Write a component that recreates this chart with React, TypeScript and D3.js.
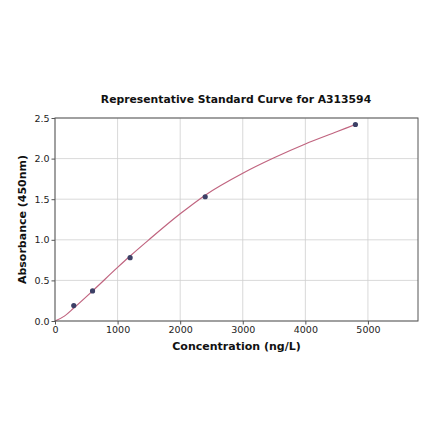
import { useEffect, useRef } from 'react';
import * as d3 from 'd3';

// standards
const concentrations = [300, 600, 1200, 2400, 4800];
const absorbances = [0.19, 0.37, 0.78, 1.53, 2.42];

// fitted curve, sampled by eye from the reference
const fitConc = [0, 150, 300, 600, 1000, 1200, 1500, 2000, 2400, 3000, 3500, 4000, 4500, 4800];
const fitAbs = [0.0, 0.06, 0.16, 0.37, 0.66, 0.8, 1.0, 1.32, 1.55, 1.82, 2.01, 2.18, 2.33, 2.42];

const xTicks = [0, 1000, 2000, 3000, 4000, 5000];
const yTicks = [0, 0.5, 1.0, 1.5, 2.0, 2.5];

const W = 440;
const H = 441;
const FONT = 'DejaVu Sans, sans-serif';

export default function App() {
  const svgRef = useRef<SVGSVGElement>(null);

  useEffect(() => {
    if (!svgRef.current) return;
    const svg = d3.select(svgRef.current);
    svg.selectAll('*').remove();

    const margin = { top: 118, right: 22, bottom: 120, left: 55 };
    const innerW = W - margin.left - margin.right;
    const innerH = H - margin.top - margin.bottom;

    const x = d3.scaleLinear().domain([0, 5800]).range([0, innerW]);
    const y = d3.scaleLinear().domain([0, 2.5]).range([innerH, 0]);

    const g = svg.append('g').attr('transform', 'translate(' + margin.left + ',' + margin.top + ')');

    // grid
    g.selectAll('line.gx')
      .data(xTicks)
      .join('line')
      .attr('x1', (d) => x(d))
      .attr('x2', (d) => x(d))
      .attr('y1', 0)
      .attr('y2', innerH)
      .attr('stroke', '#cfcfcf')
      .attr('stroke-width', 0.8);
    g.selectAll('line.gy')
      .data(yTicks)
      .join('line')
      .attr('x1', 0)
      .attr('x2', innerW)
      .attr('y1', (d) => y(d))
      .attr('y2', (d) => y(d))
      .attr('stroke', '#cfcfcf')
      .attr('stroke-width', 0.8);

    // fitted curve
    const line = d3
      .line<number>()
      .x((_, i) => x(fitConc[i]))
      .y((d) => y(d))
      .curve(d3.curveMonotoneX);
    g.append('path')
      .attr('d', line(fitAbs))
      .attr('fill', 'none')
      .attr('stroke', '#c0647f')
      .attr('stroke-width', 1.2);

    // standards
    g.selectAll('circle')
      .data(absorbances)
      .join('circle')
      .attr('cx', (_, i) => x(concentrations[i]))
      .attr('cy', (d) => y(d))
      .attr('r', 2.6)
      .attr('fill', '#3d4066');

    // frame
    g.append('rect')
      .attr('width', innerW)
      .attr('height', innerH)
      .attr('fill', 'none')
      .attr('stroke', '#555')
      .attr('stroke-width', 1);

    // axes
    const xAxis = g
      .append('g')
      .attr('transform', 'translate(0,' + innerH + ')')
      .call(d3.axisBottom(x).tickValues(xTicks).tickSize(3.5).tickPadding(2).tickFormat(d3.format('d')));
    const yAxis = g
      .append('g')
      .call(d3.axisLeft(y).tickValues(yTicks).tickSize(3.5).tickPadding(2).tickFormat(d3.format('.1f')));
    [xAxis, yAxis].forEach((a) => {
      a.select('.domain').remove();
      a.selectAll('.tick line').attr('stroke', '#555');
      a.selectAll('.tick text').attr('font-family', FONT).attr('font-size', 9.5).attr('fill', '#222');
    });

    svg
      .append('text')
      .attr('x', 236)
      .attr('y', 103)
      .attr('text-anchor', 'middle')
      .attr('font-family', FONT)
      .attr('font-weight', 'bold')
      .attr('font-size', 10.8)
      .attr('fill', '#111')
      .text('Representative Standard Curve for A313594');

    svg
      .append('text')
      .attr('x', margin.left + x(2900))
      .attr('y', 350)
      .attr('text-anchor', 'middle')
      .attr('font-family', FONT)
      .attr('font-weight', 'bold')
      .attr('font-size', 11)
      .attr('fill', '#111')
      .text('Concentration (ng/L)');

    svg
      .append('text')
      .attr('transform', 'translate(26,' + (margin.top + innerH / 2) + ') rotate(-90)')
      .attr('text-anchor', 'middle')
      .attr('font-family', FONT)
      .attr('font-weight', 'bold')
      .attr('font-size', 11)
      .attr('fill', '#111')
      .text('Absorbance (450nm)');
  }, []);

  return (
    <svg
      ref={svgRef}
      width={W}
      height={H}
      viewBox={'0 0 ' + W + ' ' + H}
      style={{ position: 'absolute', left: 0, top: 0, background: '#fff' }}
    />
  );
}
